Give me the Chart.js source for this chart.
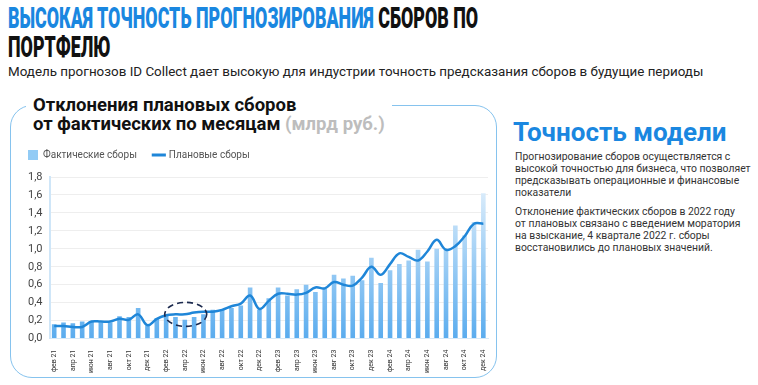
<!DOCTYPE html>
<html>
<head>
<meta charset="utf-8">
<script src="https://cdn.jsdelivr.net/npm/chart.js@4"></script>
<style>
  body { margin: 0; width: 758px; height: 385px; background: #fff; font-family: Roboto, sans-serif; position: relative; overflow: hidden; }
  .abs { position: absolute; white-space: nowrap; }
  #title { left: 8px; top: 3px; font-weight: 900; font-size: 30px; line-height: 29px; color: #111; transform-origin: 0 0; }
  #title .blue { color: #1a87e0; }
  #sub { left: 8px; top: 64px; font-size: 13.4px; color: #222; }
  #box { left: 10px; top: 105px; width: 487px; height: 273px; border: 1.5px solid #86c3ee; border-radius: 22px; box-sizing: border-box; }
  #ctitle { left: 26px; top: 96px; padding: 0 7px; background: #fff; font-weight: 700; font-size: 18.5px; line-height: 19px; color: #111; }
  #ctitle .grey { color: #bdbdbd; }
  #wrap { left: 14px; top: 148px; width: 482px; height: 228px; }
  #rhead { left: 513px; top: 117px; font-weight: 700; font-size: 26px; color: #1a87e0; }
  .para { left: 515px; font-size: 10.4px; line-height: 12px; color: #333; }
</style>
</head>
<body>
<div id="title" class="abs"><span class="blue">ВЫСОКАЯ ТОЧНОСТЬ ПРОГНОЗИРОВАНИЯ</span> СБОРОВ ПО<br>ПОРТФЕЛЮ</div>
<div id="sub" class="abs">Модель прогнозов ID Collect дает высокую для индустрии точность предсказания сборов в будущие периоды</div>
<div id="box" class="abs"></div>
<div id="ctitle" class="abs">Отклонения плановых сборов<br>от фактических по месяцам <span class="grey">(млрд руб.)</span></div>
<div id="wrap" class="abs"><canvas id="chart"></canvas></div>
<div id="rhead" class="abs">Точность модели</div>
<div class="abs para" style="top:151px">Прогнозирование сборов осуществляется с<br>высокой точностью для бизнеса, что позволяет<br>предсказывать операционные и финансовые<br>показатели</div>
<div class="abs para" style="top:206px">Отклонение фактических сборов в 2022 году<br>от плановых связано с введением моратория<br>на взыскание, 4 квартале 2022 г. сборы<br>восстановились до плановых значений.</div>

<script>
const months = ['янв', 'фев', 'мар', 'апр', 'май', 'июн', 'июл', 'авг', 'сен', 'окт', 'ноя', 'дек'];
const years = ['21', '22', '23', '24'];

// фев 21 .. дек 24
const labels = [];
years.forEach(y => months.forEach(m => labels.push(m + ' ' + y)));
labels.shift();

const actual = [
  0.16, 0.18, 0.17, 0.19, 0.19, 0.18, 0.18, 0.25, 0.24, 0.34, 0.15,
  0.23, 0.26, 0.24, 0.21, 0.24, 0.27, 0.32, 0.32, 0.34, 0.37, 0.57, 0.32,
  0.45, 0.57, 0.48, 0.55, 0.60, 0.52, 0.56, 0.71, 0.67, 0.70, 0.65, 0.90, 0.62,
  0.76, 0.83, 0.87, 0.99, 0.86, 1.00, 0.99, 1.26, 1.15, 1.30, 1.62
];
const planned = [
  0.14, 0.14, 0.13, 0.13, 0.19, 0.19, 0.19, 0.22, 0.21, 0.27, 0.15,
  0.22, 0.26, 0.27, 0.27, 0.29, 0.30, 0.30, 0.32, 0.36, 0.39, 0.48, 0.33,
  0.42, 0.50, 0.50, 0.49, 0.51, 0.57, 0.56, 0.63, 0.60, 0.59, 0.68, 0.80, 0.71,
  0.83, 0.95, 0.91, 0.87, 0.97, 1.10, 0.99, 1.03, 1.14, 1.28, 1.28
];

// moratorium area highlighted with a dashed ellipse
const markIndex = 14.1;
const markValue = 0.27;

// squeeze the condensed title
const t = document.getElementById('title');
t.style.transform = 'scaleX(' + (470 / t.scrollWidth) + ')';

const ellipsePlugin = {
  id: 'ellipse',
  afterDatasetsDraw(chart) {
    const ctx = chart.ctx;
    const x = chart.scales.x.getPixelForValue(markIndex);
    const y = chart.scales.y.getPixelForValue(markValue);
    ctx.save();
    ctx.beginPath();
    ctx.ellipse(x, y, 21, 12, 0, 0, Math.PI * 2);
    ctx.setLineDash([6, 4]);
    ctx.lineWidth = 1.6;
    ctx.strokeStyle = '#1c2a4e';
    ctx.stroke();
    ctx.restore();
  }
};

// legend sits a few px right of the axis labels
const legendShift = {
  id: 'legendShift',
  beforeInit(chart) {
    const fit = chart.legend.fit;
    chart.legend.fit = function () {
      fit.call(this);
      this.height += 7;
    };
  },
  afterLayout(chart) {
    chart.legend.left += 5;
    chart.legend.right += 5;
  },
};

function barFill(context) {
  const area = context.chart.chartArea;
  if (!area) return '#8cc8f3';
  const g = context.chart.ctx.createLinearGradient(0, area.bottom, 0, area.top);
  g.addColorStop(0, '#5aacee');
  g.addColorStop(1, '#e6f2fc');
  return g;
}

const ctx = document.getElementById('chart').getContext('2d');
new Chart(ctx, {
  data: {
    labels: labels,
    datasets: [
      {
        type: 'bar',
        label: 'Фактические сборы',
        data: actual,
        backgroundColor: barFill,
        barPercentage: 0.55,
        categoryPercentage: 0.9,
        pointStyle: 'rect',
        order: 2,
      },
      {
        type: 'line',
        label: 'Плановые сборы',
        data: planned,
        borderColor: '#1f86d8',
        backgroundColor: '#1f86d8',
        borderWidth: 2.5,
        pointRadius: 0,
        tension: 0.4,
        pointStyle: 'line',
        order: 1,
      },
    ],
  },
  options: {
    responsive: true,
    maintainAspectRatio: false,
    animation: false,
    plugins: {
      legend: {
        display: true,
        align: 'start',
        labels: {
          usePointStyle: true,
          boxWidth: 10,
          boxHeight: 10,
          padding: 2,
          color: '#555',
          font: { family: 'Roboto', size: 10 },
          sort: (a, b) => a.datasetIndex - b.datasetIndex,
          generateLabels: chart => {
            const items = Chart.defaults.plugins.legend.labels.generateLabels(chart);
            items.forEach(it => {
              if (it.datasetIndex == 0) {
                it.fillStyle = '#92cbf5';
                it.strokeStyle = '#92cbf5';
                it.lineWidth = 0;
                it.text = it.text + '      ';
              } else {
                it.lineWidth = 3;
              }
            });
            return items;
          },
        },
      },
      tooltip: { enabled: false },
    },
    scales: {
      x: {
        grid: { display: false },
        border: { color: '#d6e9f8' },
        ticks: {
          autoSkip: false,
          maxRotation: 90,
          minRotation: 90,
          color: '#333',
          font: { family: 'Roboto', size: 7 },
          callback: (v, i) => (i % 2 == 0 ? labels[i] : ''),
        },
      },
      y: {
        min: 0,
        max: 1.8,
        grid: { color: '#eeeeee', drawTicks: false },
        border: { color: '#cfe6f8', width: 2 },
        ticks: {
          stepSize: 0.2,
          padding: 7,
          color: '#444',
          font: { family: 'Roboto', size: 11 },
          callback: v => v.toFixed(1).replace('.', ','),
        },
      },
    },
    layout: { padding: { left: 7, right: 8, top: 0, bottom: 0 } },
  },
  plugins: [ellipsePlugin, legendShift],
});
</script>
</body>
</html>
